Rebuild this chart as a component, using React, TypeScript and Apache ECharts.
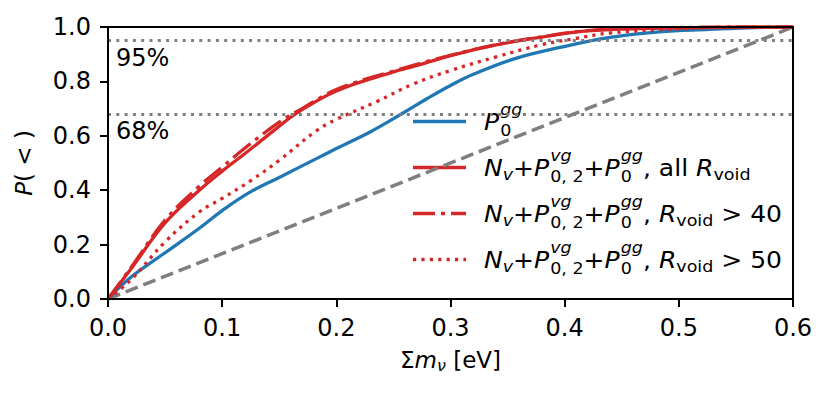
import React, { useEffect, useRef } from "react";
import * as echarts from "echarts";

// ---- data ----
const xP0gg = [0, 0.02, 0.05, 0.08, 0.1, 0.124, 0.15, 0.183, 0.2, 0.23, 0.257, 0.28, 0.3, 0.32, 0.355, 0.396, 0.44, 0.483, 0.527, 0.56, 0.6];
const yP0gg = [0, 0.08, 0.17, 0.26, 0.325, 0.392, 0.447, 0.517, 0.553, 0.615, 0.68, 0.738, 0.785, 0.826, 0.882, 0.925, 0.962, 0.982, 0.991, 0.997, 1.0];

const xAll = [0, 0.02, 0.05, 0.08, 0.1, 0.12, 0.15, 0.164, 0.2, 0.25, 0.267, 0.3, 0.34, 0.38, 0.413, 0.45, 0.5, 0.55, 0.6];
const yAll = [0, 0.11, 0.28, 0.4, 0.47, 0.535, 0.635, 0.68, 0.765, 0.835, 0.854, 0.895, 0.934, 0.963, 0.983, 0.992, 0.997, 1.0, 1.0];

const xR40 = [0, 0.02, 0.05, 0.08, 0.1, 0.12, 0.15, 0.17, 0.2, 0.25, 0.3, 0.34, 0.38, 0.413, 0.45, 0.5, 0.55, 0.6];
const yR40 = [0, 0.115, 0.29, 0.415, 0.485, 0.555, 0.65, 0.7, 0.77, 0.838, 0.896, 0.935, 0.964, 0.984, 0.993, 0.998, 1.0, 1.0];

const xR50 = [0, 0.02, 0.05, 0.08, 0.1, 0.125, 0.15, 0.183, 0.2, 0.235, 0.267, 0.3, 0.34, 0.38, 0.41, 0.44, 0.5, 0.55, 0.6];
const yR50 = [0, 0.07, 0.21, 0.32, 0.37, 0.435, 0.51, 0.62, 0.66, 0.725, 0.79, 0.84, 0.89, 0.935, 0.958, 0.978, 0.993, 0.999, 1.0];

const xDiag = [0, 0.6];
const yDiag = [0, 1];

const confLevels = [0.95, 0.68];
const confLabels = ["95%", "68%"];

const xTicks = [0, 0.1, 0.2, 0.3, 0.4, 0.5, 0.6];
const yTicks = [0, 0.2, 0.4, 0.6, 0.8, 1.0];

const BLUE = "#1f77b4";
const RED = "#d62728";
const GRAY = "#7f7f7f";
const FONT = '"DejaVu Sans", sans-serif';

const pairs = (xs: number[], ys: number[]) => xs.map((x, i) => [x, ys[i]]);

// ---- legend layout helpers ----
type Tok =
  | { t: string; it?: boolean; sub?: boolean }
  | { sup: string; supIt?: boolean; sb: string; sbIt?: boolean };

const F = 23.5;
const S = F * 0.7;
const LEG_SX = 1.065;

let measureCtx: CanvasRenderingContext2D | null = null;
function tw(text: string, size: number, italic?: boolean) {
  if (!measureCtx) measureCtx = document.createElement("canvas").getContext("2d");
  if (!measureCtx) return text.length * size * 0.6;
  measureCtx.font = `${italic ? "italic " : ""}${size}px ${FONT}`;
  return measureCtx.measureText(text).width;
}

function txt(text: string, x: number, y: number, size: number, italic?: boolean) {
  return {
    type: "text",
    x,
    y,
    silent: true,
    style: {
      text,
      font: `${italic ? "italic " : ""}${size}px ${FONT}`,
      fill: "#000",
      textAlign: "left",
      textVerticalAlign: "middle",
    },
  };
}

function layoutRow(toks: Tok[], y: number) {
  const els: any[] = [];
  let x = 0;
  for (const tk of toks) {
    if ("sup" in tk) {
      els.push(txt(tk.sup, x + 1, y - 12, S, tk.supIt));
      els.push(txt(tk.sb, x + 1, y + 8.5, S, tk.sbIt));
      x += Math.max(tw(tk.sup, S, tk.supIt), tw(tk.sb, S, tk.sbIt)) + 1;
    } else if (tk.sub) {
      els.push(txt(tk.t, x, y + 6.5, S, tk.it));
      x += tw(tk.t, S, tk.it);
    } else {
      els.push(txt(tk.t, x, y, F, tk.it));
      x += tw(tk.t, F, tk.it);
    }
  }
  return els;
}

const base: Tok[] = [
  { t: "N", it: true },
  { t: "v", it: true, sub: true },
  { t: "+" },
  { t: "P", it: true },
  { sup: "vg", supIt: true, sb: "0, 2" },
  { t: "+" },
  { t: "P", it: true },
  { sup: "gg", supIt: true, sb: "0" },
];

const legendRows: { color: string; dash: number[] | null; toks: Tok[] }[] = [
  { color: BLUE, dash: null, toks: [{ t: "P", it: true }, { sup: "gg", supIt: true, sb: "0" }] },
  { color: RED, dash: null, toks: [...base, { t: ", all " }, { t: "R", it: true }, { t: "void", sub: true }] },
  { color: RED, dash: [22, 6, 4, 6], toks: [...base, { t: ", " }, { t: "R", it: true }, { t: "void", sub: true }, { t: " > 40" }] },
  { color: RED, dash: [3.2, 5.2], toks: [...base, { t: ", " }, { t: "R", it: true }, { t: "void", sub: true }, { t: " > 50" }] },
];

export default function App() {
  const ref = useRef<HTMLDivElement>(null);

  useEffect(() => {
    if (!ref.current) return;
    const chart = echarts.init(ref.current, null, { renderer: "svg" });

    const legendEls: any[] = [];
    legendRows.forEach((row, i) => {
      const y = 121.5 + i * 46;
      legendEls.push({
        type: "line",
        silent: true,
        shape: { x1: 413, y1: y, x2: 466, y2: y },
        style: { stroke: row.color, lineWidth: 3.3, lineDash: row.dash || undefined, lineCap: "butt" },
      });
      legendEls.push({
        type: "group",
        x: 484,
        y: 0,
        scaleX: LEG_SX,
        children: layoutRow(row.toks, y),
      });
    });

    const lineSeries = (name: string, xs: number[], ys: number[], color: string, type: any, width: number) => ({
      name,
      type: "line",
      data: pairs(xs, ys),
      showSymbol: false,
      smooth: 0.4,
      lineStyle: { color, width, type, cap: "butt" },
      z: 3,
    });

    const tickFont = 24;

    chart.setOption({
      animation: false,
      textStyle: { fontFamily: FONT },
      grid: { left: 108, right: 38, top: 27, bottom: 94, containLabel: false },
      xAxis: {
        type: "value",
        min: 0,
        max: 0.6,
        interval: 0.1,
        name: "{s|Σ}{m|m}{n|ν}{s| [eV]}",
        nameLocation: "middle",
        nameGap: 47,
        nameTextStyle: {
          rich: {
            s: { fontSize: 23, fontFamily: FONT, color: "#000", lineHeight: 27, verticalAlign: "middle" },
            m: { fontSize: 23, fontFamily: FONT, fontStyle: "italic", color: "#000", lineHeight: 27, verticalAlign: "middle" },
            n: { fontSize: 16, fontFamily: FONT, fontStyle: "italic", color: "#000", lineHeight: 16, verticalAlign: "bottom" },
          },
        },
        axisLine: { show: true, onZero: false, lineStyle: { color: "#000", width: 2 } },
        axisTick: { show: true, inside: false, length: 8, lineStyle: { color: "#000", width: 2 } },
        axisLabel: {
          fontSize: tickFont,
          color: "#000",
          fontFamily: FONT,
          margin: 17,
          formatter: (v: number) => {
            const t = xTicks.find((k) => Math.abs(k - v) < 1e-9);
            return t === undefined ? "" : t.toFixed(1);
          },
        },
        splitLine: { show: false },
      },
      yAxis: {
        type: "value",
        min: 0,
        max: 1,
        interval: 0.2,
        name: "{p|P}{s|( < )}",
        nameLocation: "middle",
        nameGap: 73,
        nameRotate: 90,
        nameTextStyle: {
          rich: {
            p: { fontSize: 23, fontFamily: FONT, fontStyle: "italic", color: "#000" },
            s: { fontSize: 23, fontFamily: FONT, color: "#000" },
          },
        },
        axisLine: { show: true, onZero: false, lineStyle: { color: "#000", width: 2 } },
        axisTick: { show: true, inside: false, length: 8, lineStyle: { color: "#000", width: 2 } },
        axisLabel: {
          fontSize: tickFont,
          color: "#000",
          fontFamily: FONT,
          margin: 17,
          formatter: (v: number) => {
            const t = yTicks.find((k) => Math.abs(k - v) < 1e-9);
            return t === undefined ? "" : t.toFixed(1);
          },
        },
        splitLine: { show: false },
      },
      graphic: [
        {
          type: "rect",
          silent: true,
          shape: { x: 108, y: 27, width: 685, height: 272 },
          style: { fill: "none", stroke: "#000", lineWidth: 2 },
          z: 10,
        },
        ...legendEls,
      ],
      series: [
        {
          name: "diag",
          type: "line",
          data: pairs(xDiag, yDiag),
          showSymbol: false,
          lineStyle: { color: GRAY, width: 3.5, type: [13, 6], cap: "butt" },
          z: 2,
          markLine: {
            silent: true,
            symbol: ["none", "none"],
            lineStyle: { color: "#808080", width: 3, type: [3, 5.3], cap: "butt" },
            label: {
              show: true,
              position: "insideStartBottom",
              fontSize: tickFont,
              color: "#000",
              fontFamily: FONT,
              distance: [8, 5],
              formatter: (p: any) => p.name,
            },
            data: confLevels.map((v, i) => ({ yAxis: v, name: confLabels[i] })),
          },
        },
        lineSeries("P0gg", xP0gg, yP0gg, BLUE, "solid", 3.3),
        lineSeries("all", xAll, yAll, RED, "solid", 3.3),
        lineSeries("R40", xR40, yR40, RED, [22, 6, 4, 6], 3.3),
        lineSeries("R50", xR50, yR50, RED, [3.2, 5.2], 3.3),
      ],
    });

    return () => chart.dispose();
  }, []);

  return <div ref={ref} style={{ width: 831, height: 393, margin: -8 }} />;
}
